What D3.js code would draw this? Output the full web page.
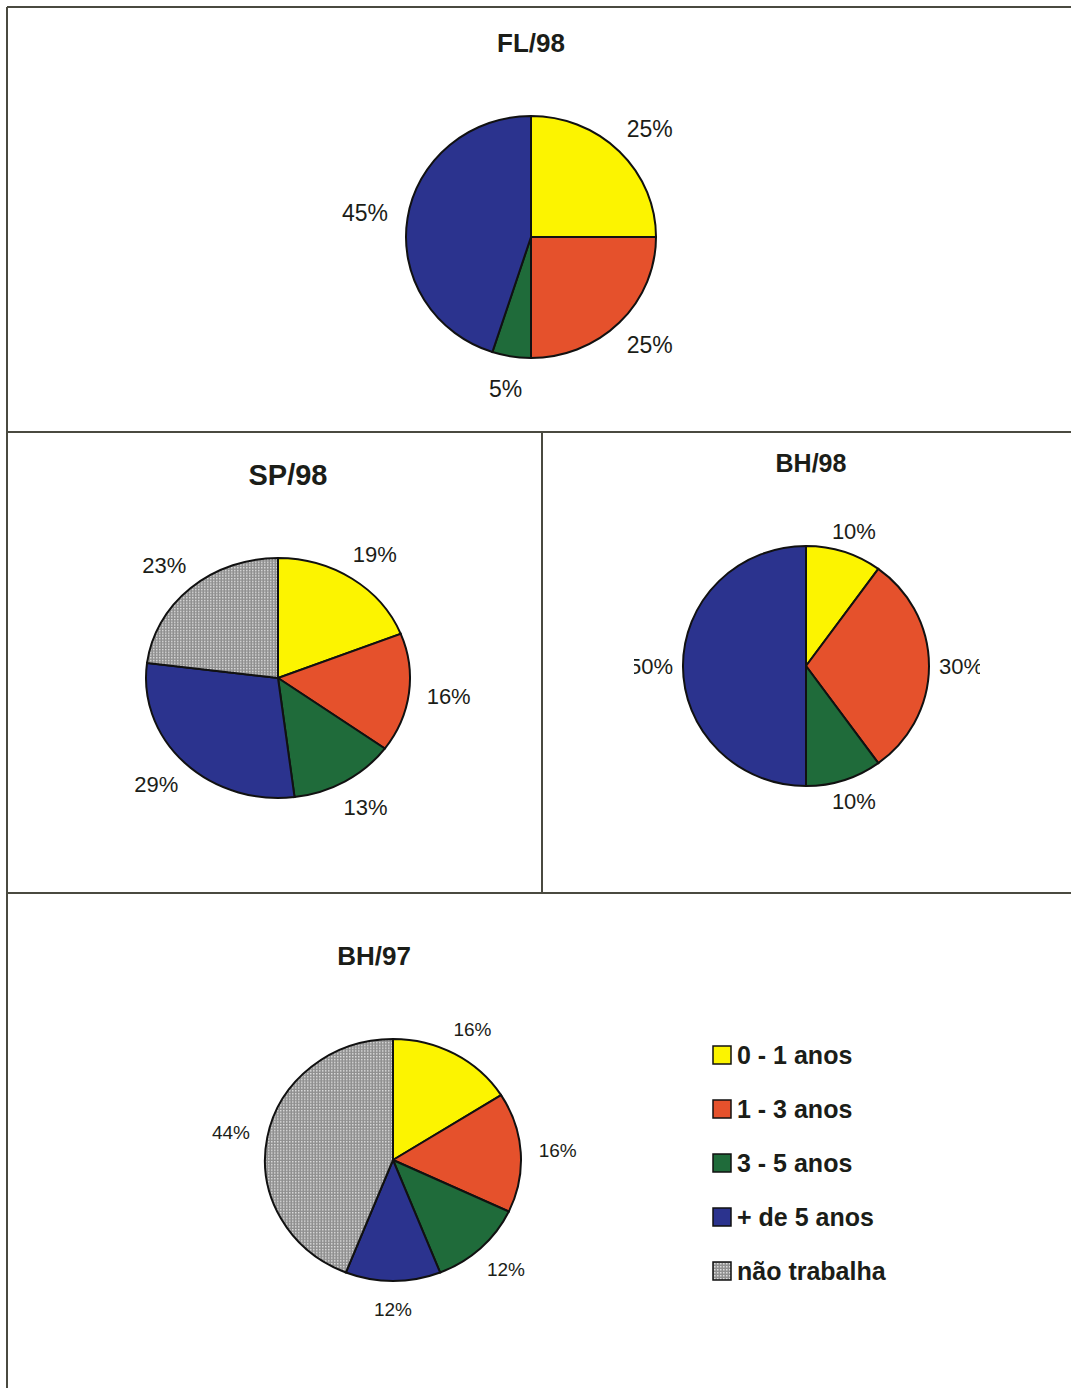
<!DOCTYPE html>
<html lang="pt">
<head>
<meta charset="UTF-8">
<title>Tempo de trabalho</title>
<script src="https://cdnjs.cloudflare.com/ajax/libs/d3/7.8.5/d3.min.js"></script>
<style>
  body { margin: 0; padding: 0; background: #fff; }
  svg { display: block; }
  text { font-family: "Liberation Sans", Arial, sans-serif; fill: #1b1d18; }
  .title { font-weight: bold; text-anchor: middle; }
  .frame { stroke: #4a4a40; stroke-width: 2; }
  .slice { stroke: #111; stroke-width: 2; vector-effect: non-scaling-stroke; }
</style>
</head>
<body>
<div id="chart"></div>
<script>
  // data
  const categories = ["0 - 1 anos", "1 - 3 anos", "3 - 5 anos", "+ de 5 anos", "não trabalha"];
  const fl98 = [25, 25, 5, 45, 0];
  const sp98 = [19, 16, 13, 29, 23];
  const bh98 = [10, 30, 10, 50, 0];
  const bh97 = [16, 16, 12, 12, 44];

  const width = 1071, height = 1388;
  const colors = ["#fcf400", "#e5512c", "#1f6b3a", "#2b338e", "url(#dots)"];

  const svg = d3.select("#chart").append("svg")
      .attr("width", width)
      .attr("height", height);

  // dotted grey fill for "não trabalha"
  const defs = svg.append("defs");
  const pat = defs.append("pattern")
      .attr("id", "dots")
      .attr("patternUnits", "userSpaceOnUse")
      .attr("width", 3).attr("height", 3);
  pat.append("rect").attr("width", 3).attr("height", 3).attr("fill", "#909090");
  pat.append("rect").attr("x", 1).attr("y", 1).attr("width", 1.5).attr("height", 1.5).attr("fill", "#dcdcdc");

  // panel frames
  const frame = svg.append("g");
  frame.append("line").attr("class", "frame").attr("x1", 7).attr("y1", 7).attr("x2", width).attr("y2", 7);
  frame.append("line").attr("class", "frame").attr("x1", 7).attr("y1", 7).attr("x2", 7).attr("y2", height);
  frame.append("line").attr("class", "frame").attr("x1", 7).attr("y1", 432).attr("x2", width).attr("y2", 432);
  frame.append("line").attr("class", "frame").attr("x1", 7).attr("y1", 893).attr("x2", width).attr("y2", 893);
  frame.append("line").attr("class", "frame").attr("x1", 542).attr("y1", 432).attr("x2", 542).attr("y2", 893);

  const panels = [
    { id: "fl", title: "FL/98", values: fl98, cx: 531, cy: 237, rx: 125, ry: 121,
      tx: 531, ty: 52, tsize: 26, lsize: 23, pad: 18 },
    { id: "sp", title: "SP/98", values: sp98, cx: 278, cy: 678, rx: 132, ry: 120,
      tx: 288, ty: 485, tsize: 29, lsize: 22, pad: 16 },
    { id: "bh98", title: "BH/98", values: bh98, cx: 806, cy: 666, rx: 123, ry: 120,
      tx: 811, ty: 472, tsize: 25, lsize: 22, pad: 8, clip: [634, 480, 346, 360] },
    { id: "bh97", title: "BH/97", values: bh97, cx: 393, cy: 1160, rx: 128, ry: 121,
      tx: 374, ty: 965, tsize: 26, lsize: 19, pad: 16 }
  ];

  const pie = d3.pie().sort(null).value(d => d.v);

  panels.forEach(p => {
    const g = svg.append("g");
    g.append("text").attr("class", "title")
        .attr("x", p.tx).attr("y", p.ty)
        .style("font-size", p.tsize + "px")
        .text(p.title);

    const data = p.values.map((v, i) => ({ v, i })).filter(d => d.v > 0);
    const arcs = pie(data);
    const arc = d3.arc().innerRadius(0).outerRadius(p.rx);

    g.append("g")
        .attr("transform", `translate(${p.cx},${p.cy}) scale(1,${p.ry / p.rx})`)
      .selectAll("path")
      .data(arcs)
      .join("path")
        .attr("class", "slice")
        .attr("fill", d => colors[d.data.i])
        .attr("d", arc);

    const lg = g.append("g");
    if (p.clip) {
      defs.append("clipPath").attr("id", "clip-" + p.id)
        .append("rect")
          .attr("x", p.clip[0]).attr("y", p.clip[1])
          .attr("width", p.clip[2]).attr("height", p.clip[3]);
      lg.attr("clip-path", `url(#clip-${p.id})`);
    }

    lg.selectAll("text")
      .data(arcs)
      .join("text")
        .style("font-size", p.lsize + "px")
        .attr("text-anchor", "middle")
        .attr("dy", "0.35em")
        .text(d => d.data.v + "%")
        .each(function(d) {
          const a = (d.startAngle + d.endAngle) / 2;
          const s = Math.sin(a), c = Math.cos(a);
          const w = this.getComputedTextLength() / 2 + 2;
          const h = p.lsize * 0.45;
          const x = p.cx + (p.rx + p.pad) * s + w * s;
          const y = p.cy - (p.ry + p.pad + 4) * c - h * c;
          d3.select(this).attr("x", x).attr("y", y);
        });
  });

  // legend
  const legend = svg.append("g").attr("transform", "translate(713,1046)");
  const item = legend.selectAll("g")
    .data(categories)
    .join("g")
      .attr("transform", (d, i) => `translate(0,${i * 54})`);
  item.append("rect")
      .attr("width", 18).attr("height", 18)
      .attr("fill", (d, i) => colors[i])
      .attr("stroke", "#111").attr("stroke-width", 1.5);
  item.append("text")
      .attr("x", 24).attr("y", 9).attr("dy", "0.36em")
      .style("font-size", "25px")
      .style("font-weight", "bold")
      .text(d => d);
</script>
</body>
</html>
